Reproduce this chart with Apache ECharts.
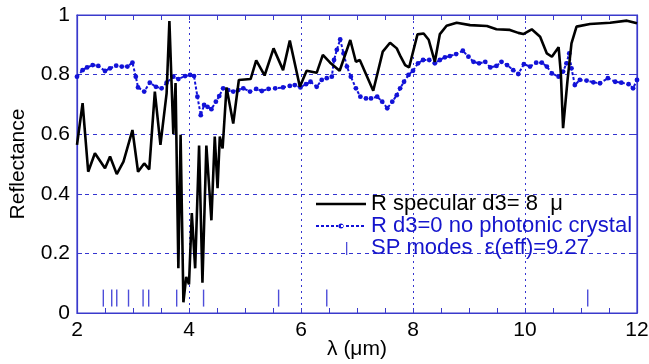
<!DOCTYPE html>
<html>
<head>
<meta charset="utf-8">
<script src="https://cdn.jsdelivr.net/npm/echarts@6/dist/echarts.min.js"></script>
<style>
  html, body { margin: 0; padding: 0; background: #fff; }
  #chart { width: 649px; height: 364px; }
</style>
</head>
<body>
<div id="chart"></div>
<script>
// R specular, d3 = 8 um (black solid)
const specLambda = [2.00, 2.10, 2.20, 2.32, 2.50, 2.59, 2.71, 2.83, 2.99, 3.09, 3.20, 3.29, 3.39, 3.49, 3.60, 3.65,
  3.72, 3.76, 3.81, 3.85, 3.90, 3.95, 4.00, 4.05, 4.11, 4.18, 4.24, 4.31, 4.40, 4.46, 4.51, 4.55, 4.60, 4.67, 4.79,
  4.89, 5.10, 5.20, 5.35, 5.51, 5.68, 5.80, 5.98, 6.10, 6.28, 6.39, 6.52, 6.69, 6.88, 6.98, 7.05, 7.29, 7.46, 7.59,
  7.71, 7.78, 7.86, 7.93, 8.08, 8.19, 8.28, 8.39, 8.48, 8.60, 8.78, 9.02, 9.32, 9.49, 9.73, 9.88, 9.97, 10.12, 10.27,
  10.39, 10.48, 10.60, 10.64, 10.68, 10.76, 10.83, 10.92, 11.16, 11.52, 11.82, 12.00];
const specR = [0.564, 0.704, 0.474, 0.536, 0.486, 0.525, 0.466, 0.508, 0.614, 0.474, 0.502, 0.482, 0.743, 0.564, 0.737, 0.980,
  0.600, 0.772, 0.150, 0.598, 0.036, 0.121, 0.096, 0.335, 0.150, 0.562, 0.102, 0.562, 0.311, 0.592, 0.419, 0.592, 0.552, 0.757, 0.636,
  0.782, 0.785, 0.848, 0.797, 0.888, 0.815, 0.914, 0.759, 0.813, 0.806, 0.866, 0.840, 0.813, 0.916, 0.843, 0.849, 0.746, 0.877, 0.907,
  0.888, 0.860, 0.832, 0.824, 0.935, 0.938, 0.917, 0.843, 0.936, 0.964, 0.974, 0.966, 0.963, 0.952, 0.950, 0.940, 0.936, 0.952, 0.927,
  0.871, 0.860, 0.892, 0.804, 0.620, 0.782, 0.905, 0.961, 0.970, 0.974, 0.981, 0.972];

// R d3 = 0, no photonic crystal (blue dotted)
const flatLambda = [2.00, 2.10, 2.18, 2.28, 2.38, 2.50, 2.59, 2.70, 2.80, 2.90, 2.99, 3.05, 3.09, 3.20, 3.30, 3.41, 3.51, 3.60,
  3.72, 3.81, 3.93, 4.02, 4.09, 4.15, 4.21, 4.27, 4.33, 4.40, 4.48, 4.54, 4.61, 4.70, 4.79, 4.88, 4.97, 5.09, 5.20, 5.30, 5.42,
  5.54, 5.68, 5.80, 5.89, 5.99, 6.09, 6.17, 6.28, 6.37, 6.46, 6.55, 6.59, 6.64, 6.70, 6.76, 6.82, 6.89, 6.98, 7.06, 7.16, 7.25,
  7.36, 7.45, 7.54, 7.63, 7.71, 7.77, 7.84, 7.92, 8.00, 8.09, 8.18, 8.29, 8.39, 8.48, 8.57, 8.66, 8.77, 8.89, 8.99, 9.08, 9.18,
  9.29, 9.38, 9.49, 9.58, 9.68, 9.79, 9.88, 9.98, 10.09, 10.20, 10.30, 10.39, 10.48, 10.60, 10.68, 10.74, 10.79, 10.83, 10.89,
  10.98, 11.10, 11.22, 11.34, 11.48, 11.61, 11.72, 11.85, 11.93, 12.00];
const flatR = [0.793, 0.815, 0.824, 0.832, 0.829, 0.812, 0.821, 0.830, 0.827, 0.827, 0.840, 0.793, 0.757, 0.743, 0.773, 0.759, 0.754, 0.773,
  0.793, 0.785, 0.795, 0.799, 0.795, 0.726, 0.664, 0.698, 0.692, 0.684, 0.709, 0.728, 0.754, 0.748, 0.743, 0.748, 0.754, 0.743, 0.752, 0.745, 0.752,
  0.754, 0.757, 0.762, 0.765, 0.757, 0.768, 0.776, 0.759, 0.782, 0.788, 0.793, 0.849, 0.883, 0.918, 0.871, 0.827, 0.793, 0.754, 0.726, 0.720, 0.720,
  0.726, 0.709, 0.687, 0.709, 0.731, 0.754, 0.776, 0.799, 0.813, 0.838, 0.849, 0.849, 0.838, 0.849, 0.858, 0.862, 0.869, 0.880, 0.860, 0.843, 0.838,
  0.843, 0.824, 0.829, 0.843, 0.832, 0.815, 0.802, 0.835, 0.827, 0.840, 0.840, 0.827, 0.804, 0.793, 0.810, 0.838, 0.871, 0.821, 0.765,
  0.782, 0.780, 0.774, 0.771, 0.788, 0.776, 0.773, 0.768, 0.754, 0.782];

// SP mode positions (short vertical ticks near the bottom)
const spLambda = [2.47, 2.62, 2.71, 2.92, 3.18, 3.28, 3.78, 4.26, 5.60, 6.46, 11.12];
const spLevel = 0.05;

const specName = 'R specular d3= 8  \u03bc';
const flatName = 'R d3=0 no photonic crystal';
const spName = 'SP modes  \u03b5(eff)=9.27';

const frameBlue = '#3a3acc';
const gridBlue = '#3434d0';
const dataBlue = '#1212d8';
const font = 'Liberation Sans, Arial, sans-serif';

// legend icons: tiny corner specks fix the 50x14 box so the marks keep their size
const box = 'M0,0 L0.01,0 L0.01,0.01 Z M50,14 L49.99,14 L49.99,13.99 Z ';
const specIcon = 'path://' + box + 'M0,5.8 L50,5.8 L50,8.2 L0,8.2 Z';
let dashes = '';
for (let x = 0; x < 50; x += 5) {
  dashes += 'M' + x + ',6 L' + Math.min(x + 3, 50) + ',6 L' + Math.min(x + 3, 50) + ',8 L' + x + ',8 Z ';
}
const flatIcon = 'path://' + box + dashes + 'M22.5,7 A2.5,2.5 0 1,0 27.5,7 A2.5,2.5 0 1,0 22.5,7 Z';
const spIcon = 'path://' + box + 'M30,1 L31.3,1 L31.3,14 L30,14 Z';

const chart = echarts.init(document.getElementById('chart'));

const option = {
  animation: false,
  backgroundColor: '#fff',
  textStyle: { fontFamily: font },
  grid: {
    left: 77, right: 12, top: 15, bottom: 51,
    outerBoundsMode: 'none', containLabel: false,
    show: true, borderColor: frameBlue, borderWidth: 1.2, backgroundColor: 'transparent'
  },
  legend: {
    orient: 'vertical',
    left: 311,
    top: 188,
    itemWidth: 50,
    itemHeight: 14,
    itemGap: 0,
    textStyle: { fontSize: 22, lineHeight: 21, fontFamily: font, padding: 0 },
    data: [
      { name: specName, icon: specIcon, textStyle: { color: '#000' } },
      { name: flatName, icon: flatIcon, textStyle: { color: '#1515cc' } },
      { name: spName, icon: spIcon, textStyle: { color: '#1515cc' } }
    ]
  },
  xAxis: [
    {
      type: 'value', min: 2, max: 12, interval: 2,
      name: '\u03bb (\u03bcm)', nameLocation: 'middle', nameGap: 26, nameMoveOverlap: false,
      nameTextStyle: { fontSize: 21, color: '#000', fontFamily: font },
      axisLine: { show: true, onZero: false, lineStyle: { color: frameBlue, width: 1.2 } },
      axisTick: { show: true, inside: true, length: 5, lineStyle: { color: frameBlue } },
      minorTick: { show: true, splitNumber: 4, length: 5, lineStyle: { color: frameBlue } },
      axisLabel: { fontSize: 21, color: '#000', margin: 7, fontFamily: font },
      splitLine: { show: true, lineStyle: { color: gridBlue, type: [2, 4], width: 1 } }
    },
    {
      type: 'value', min: 2, max: 12, interval: 2, position: 'top',
      axisLine: { show: true, onZero: false, lineStyle: { color: frameBlue, width: 1.2 } },
      axisTick: { show: true, inside: true, length: 5, lineStyle: { color: frameBlue } },
      minorTick: { show: true, splitNumber: 4, length: 5, lineStyle: { color: frameBlue } },
      axisLabel: { show: false },
      splitLine: { show: false }
    }
  ],
  yAxis: [
    {
      type: 'value', min: 0, max: 1, interval: 0.2,
      name: 'Reflectance', nameLocation: 'middle', nameGap: 48, nameRotate: 90, nameMoveOverlap: false,
      nameTextStyle: { fontSize: 21, color: '#000', fontFamily: font },
      axisLine: { show: true, onZero: false, lineStyle: { color: frameBlue, width: 1.2 } },
      axisTick: { show: true, inside: true, length: 5, lineStyle: { color: frameBlue } },
      axisLabel: { fontSize: 21, color: '#000', margin: 7, fontFamily: font },
      splitLine: { show: true, lineStyle: { color: gridBlue, type: [4, 4], width: 1 } }
    },
    {
      type: 'value', min: 0, max: 1, interval: 0.2, position: 'right',
      axisLine: { show: true, onZero: false, lineStyle: { color: frameBlue, width: 1.2 } },
      axisTick: { show: true, inside: true, length: 5, lineStyle: { color: frameBlue } },
      axisLabel: { show: false },
      splitLine: { show: false }
    }
  ],
  series: [
    {
      name: spName,
      type: 'scatter',
      symbol: 'rect',
      symbolSize: [1.4, 17],
      itemStyle: { color: '#2020d0' },
      data: spLambda.map((x) => [x, spLevel]),
      z: 1
    },
    {
      name: flatName,
      type: 'line',
      symbol: 'circle',
      symbolSize: 4.8,
      showSymbol: true,
      lineStyle: { color: dataBlue, width: 2, type: [3, 2] },
      itemStyle: { color: dataBlue },
      data: flatLambda.map((x, i) => [x, flatR[i]]),
      z: 2
    },
    {
      name: specName,
      type: 'line',
      symbol: 'none',
      lineStyle: { color: '#000', width: 2.6 },
      itemStyle: { color: '#000' },
      data: specLambda.map((x, i) => [x, specR[i]]),
      z: 3
    }
  ]
};

chart.setOption(option);
</script>
</body>
</html>
